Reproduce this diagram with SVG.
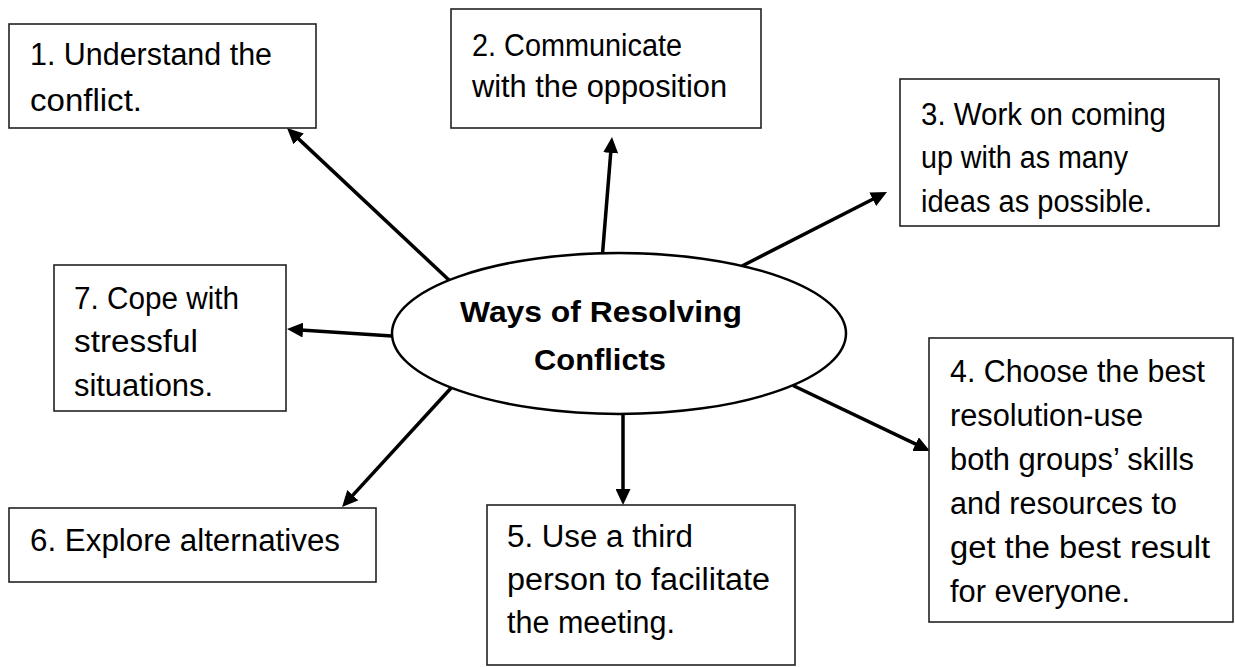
<svg xmlns="http://www.w3.org/2000/svg" width="1235" height="667" viewBox="0 0 1235 667">
<style>
.box{fill:#fff;stroke:#222;stroke-width:1.6}
.t{font-family:"Liberation Sans",Arial,sans-serif;font-size:31px;fill:#000}
.c{font-family:"Liberation Sans",Arial,sans-serif;font-size:30px;font-weight:bold;fill:#000}
.arr{stroke:#000;stroke-width:3.5;fill:none;marker-end:url(#ah)}
</style>
<defs>
<marker id="ah" markerUnits="userSpaceOnUse" markerWidth="16" markerHeight="15" refX="6" refY="7.5" orient="auto">
<path d="M0,0 L16,7.5 L0,15 z" fill="#000"/>
</marker>
</defs>
<rect width="1235" height="667" fill="#fff"/>
<g id="connectors">
<line class="arr" x1="450" y1="281" x2="294.3" y2="134.9"/>
<line class="arr" x1="602.5" y1="254" x2="611.2" y2="147"/>
<line class="arr" x1="742" y1="266" x2="878.1" y2="196.5"/>
<line class="arr" x1="793" y1="385.5" x2="921" y2="446.7"/>
<line class="arr" x1="623" y1="414" x2="623" y2="495"/>
<line class="arr" x1="452" y1="387" x2="348.8" y2="499.6"/>
<line class="arr" x1="392" y1="336" x2="297" y2="329.7"/>
</g>
<g id="center">
<ellipse cx="619" cy="333.5" rx="227" ry="80.5" fill="#fff" stroke="#000" stroke-width="2.5"/>
<text class="c" x="460" y="321.7" textLength="282" lengthAdjust="spacingAndGlyphs">Ways of Resolving</text>
<text class="c" x="534" y="370" textLength="132" lengthAdjust="spacingAndGlyphs">Conflicts</text>
</g>
<g id="node1">
<rect class="box" x="9" y="24" width="307" height="104"/>
<text class="t" x="30" y="65" textLength="242" lengthAdjust="spacingAndGlyphs">1. Understand the</text>
<text class="t" x="30" y="111" textLength="112" lengthAdjust="spacingAndGlyphs">conflict.</text>
</g>
<g id="node2">
<rect class="box" x="451" y="9" width="310" height="119"/>
<text class="t" x="472" y="56" textLength="210" lengthAdjust="spacingAndGlyphs">2. Communicate</text>
<text class="t" x="472" y="97" textLength="255" lengthAdjust="spacingAndGlyphs">with the opposition</text>
</g>
<g id="node3">
<rect class="box" x="900" y="79" width="319" height="147"/>
<text class="t" x="921" y="125" textLength="245" lengthAdjust="spacingAndGlyphs">3. Work on coming</text>
<text class="t" x="921" y="168" textLength="207" lengthAdjust="spacingAndGlyphs">up with as many</text>
<text class="t" x="921" y="212" textLength="231" lengthAdjust="spacingAndGlyphs">ideas as possible.</text>
</g>
<g id="node4">
<rect class="box" x="929" y="338" width="304" height="284"/>
<text class="t" x="950" y="382" textLength="255" lengthAdjust="spacingAndGlyphs">4. Choose the best</text>
<text class="t" x="950" y="426" textLength="193" lengthAdjust="spacingAndGlyphs">resolution-use</text>
<text class="t" x="950" y="470" textLength="244" lengthAdjust="spacingAndGlyphs">both groups’ skills</text>
<text class="t" x="950" y="514" textLength="227" lengthAdjust="spacingAndGlyphs">and resources to</text>
<text class="t" x="950" y="558" textLength="260" lengthAdjust="spacingAndGlyphs">get the best result</text>
<text class="t" x="950" y="602" textLength="180" lengthAdjust="spacingAndGlyphs">for everyone.</text>
</g>
<g id="node5">
<rect class="box" x="487" y="505" width="308" height="160"/>
<text class="t" x="507" y="547" textLength="186" lengthAdjust="spacingAndGlyphs">5. Use a third</text>
<text class="t" x="507" y="590" textLength="263" lengthAdjust="spacingAndGlyphs">person to facilitate</text>
<text class="t" x="507" y="633" textLength="168" lengthAdjust="spacingAndGlyphs">the meeting.</text>
</g>
<g id="node6">
<rect class="box" x="9" y="508" width="367" height="74"/>
<text class="t" x="30" y="551" textLength="310" lengthAdjust="spacingAndGlyphs">6. Explore alternatives</text>
</g>
<g id="node7">
<rect class="box" x="54" y="265" width="232" height="146"/>
<text class="t" x="74" y="309" textLength="165" lengthAdjust="spacingAndGlyphs">7. Cope with</text>
<text class="t" x="74" y="352" textLength="124" lengthAdjust="spacingAndGlyphs">stressful</text>
<text class="t" x="74" y="396" textLength="139" lengthAdjust="spacingAndGlyphs">situations.</text>
</g>
</svg>
